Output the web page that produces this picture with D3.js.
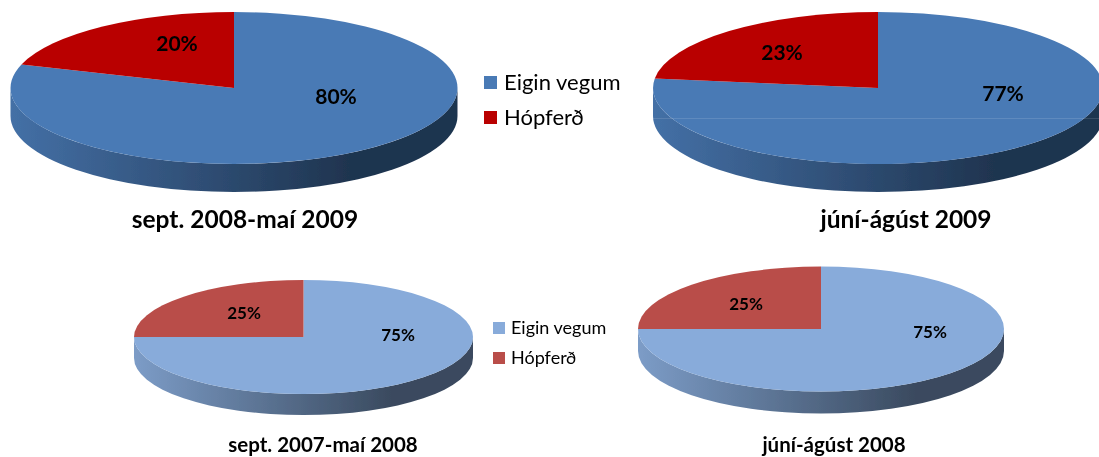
<!DOCTYPE html>
<html>
<head>
<meta charset="utf-8">
<script src="https://cdn.jsdelivr.net/npm/d3@7"></script>
<style>
  html, body { margin: 0; padding: 0; background: #fff; }
  svg { display: block; }
  text { font-family: Lato, "Open Sans", sans-serif; fill: #000; }
</style>
</head>
<body>
<div id="chart_placeholder"></div>
<script>
var categories = ["Eigin vegum", "Hópferð"];
var periods = ["sept. 2008-maí 2009", "júní-ágúst 2009", "sept. 2007-maí 2008", "júní-ágúst 2008"];
var eiginVegum = [80, 77, 75, 75];
var hopferd = [20, 23, 25, 25];

var width = 1099, height = 457;

// placement of each pie
var layout = [
  {cx: 234, cy: 88, rx: 223.5, ry: 76, depth: 28, labels: [[336, 97], [177, 44]], title: [245, 228], titleSize: 24.5, labelSize: 21, dark: 0},
  {cx: 878, cy: 88, rx: 225, ry: 76, depth: 28, labels: [[1003, 94], [782, 53]], title: [906, 228], titleSize: 24.5, labelSize: 21, dark: 0, seam: true},
  {cx: 303.5, cy: 337, rx: 169.5, ry: 57, depth: 21, labels: [[398, 335], [244, 313]], title: [323, 452], titleSize: 20.5, labelSize: 17, dark: 1},
  {cx: 821, cy: 329, rx: 183, ry: 62.5, depth: 22, labels: [[930, 332], [746, 304]], title: [834, 452], titleSize: 20.5, labelSize: 17, dark: 1}
];

var palettes = [
  {blue: "#4a7ab5", red: "#b90000", wallEnd: "#1f344f"},
  {blue: "#88abda", red: "#b94d49", wallEnd: "#3a4a5f"}
];

var svg = d3.select("#chart_placeholder")
  .append("svg")
  .attr("width", width)
  .attr("height", height);

var defs = svg.append("defs");

defs.append("filter")
  .attr("id", "soft")
  .append("feGaussianBlur")
  .attr("stdDeviation", 0.45);

defs.append("filter")
  .attr("id", "softtext")
  .append("feGaussianBlur")
  .attr("stdDeviation", 0.3);

palettes.forEach(function(p, i) {
  var grad = defs.append("linearGradient")
    .attr("id", "wall" + i)
    .attr("x1", 0).attr("x2", 1).attr("y1", 0).attr("y2", 0);
  grad.append("stop").attr("offset", "0%").attr("stop-color", d3.color(p.blue).darker(0.25));
  grad.append("stop").attr("offset", "76%").attr("stop-color", p.wallEnd);
  grad.append("stop").attr("offset", "100%").attr("stop-color", p.wallEnd);
});

var pie = d3.pie().sort(null);
var arc = d3.arc().innerRadius(0).outerRadius(1);

layout.forEach(function(l, i) {
  var p = palettes[l.dark];
  var g = svg.append("g").attr("filter", "url(#soft)");

  // side wall of the disc
  var wall = "M" + (l.cx - l.rx) + "," + l.cy +
    "A" + l.rx + "," + l.ry + " 0 0 0 " + (l.cx + l.rx) + "," + l.cy +
    "V" + (l.cy + l.depth) +
    "A" + l.rx + "," + l.ry + " 0 0 1 " + (l.cx - l.rx) + "," + (l.cy + l.depth) + "Z";
  g.append("path")
    .attr("d", wall)
    .attr("fill", "url(#wall" + l.dark + ")");

  // top face: unit pie squashed to an ellipse
  g.append("g")
    .attr("transform", "translate(" + l.cx + "," + l.cy + ") scale(" + l.rx + "," + l.ry + ")")
    .selectAll("path")
    .data(pie([eiginVegum[i], hopferd[i]]))
    .enter().append("path")
    .attr("d", arc)
    .attr("fill", function(d, j) { return j == 0 ? p.blue : p.red; });

  // faint seam across the disc in the source image
  if (l.seam) {
    svg.append("line")
      .attr("x1", l.cx - l.rx).attr("x2", l.cx + l.rx)
      .attr("y1", 118.5).attr("y2", 118.5)
      .attr("stroke", "#fff")
      .attr("stroke-opacity", 0.12);
  }

  svg.append("g").attr("filter", "url(#softtext)").selectAll("text")
    .data([eiginVegum[i], hopferd[i]])
    .enter().append("text")
    .attr("x", function(d, j) { return l.labels[j][0]; })
    .attr("y", function(d, j) { return l.labels[j][1]; })
    .attr("dy", "0.35em")
    .attr("text-anchor", "middle")
    .attr("font-weight", 700)
    .attr("font-size", l.labelSize)
    .text(function(d) { return d + "%"; });

  svg.append("text")
    .attr("x", l.title[0])
    .attr("y", l.title[1])
    .attr("text-anchor", "middle")
    .attr("font-weight", 700)
    .attr("font-size", l.titleSize)
    .attr("filter", "url(#softtext)")
    .text(periods[i]);
});

// legends
var legends = [
  {x: 484, y: 76, size: 13, gap: 35, textX: 504, fontSize: 22, dark: 0},
  {x: 493, y: 322, size: 12, gap: 30, textX: 511, fontSize: 18, dark: 1}
];

legends.forEach(function(lg) {
  var p = palettes[lg.dark];
  var item = svg.append("g").attr("filter", "url(#softtext)").selectAll("g")
    .data(categories)
    .enter().append("g")
    .attr("transform", function(d, j) { return "translate(0," + (lg.y + j * lg.gap) + ")"; });
  item.append("rect")
    .attr("x", lg.x)
    .attr("width", lg.size)
    .attr("height", lg.size)
    .attr("fill", function(d, j) { return j == 0 ? p.blue : p.red; });
  item.append("text")
    .attr("x", lg.textX)
    .attr("y", lg.size / 2)
    .attr("dy", "0.35em")
    .attr("font-size", lg.fontSize)
    .text(function(d) { return d; });
});
</script>
</body>
</html>
